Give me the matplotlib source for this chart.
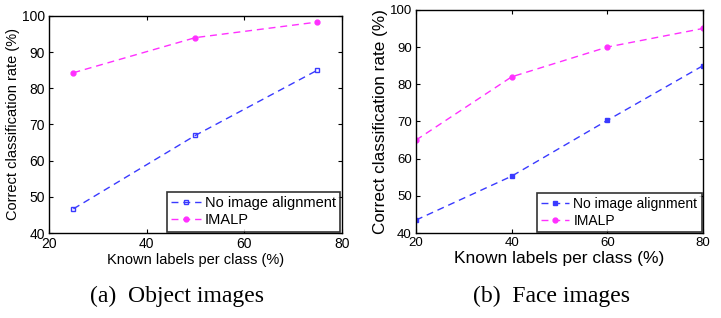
import matplotlib
matplotlib.use("Agg")
import matplotlib.pyplot as plt

# (a) object images
obj_x = [25, 50, 75]
obj_noalign = [46.7, 67.0, 85.0]
obj_imalp = [84.3, 94.0, 98.3]

# (b) face images
face_x = [20, 40, 60, 80]
face_noalign = [43.5, 55.3, 70.3, 85.0]
face_imalp = [65.0, 82.0, 90.0, 95.0]

labels = ["No image alignment", "IMALP"]
xticks = [20, 40, 60, 80]
yticks = [40, 50, 60, 70, 80, 90, 100]

plt.rcParams['font.family'] = ['Liberation Sans', 'DejaVu Sans']

fig = plt.figure(figsize=(7.21, 3.18), dpi=100, facecolor='w')
axL = fig.add_axes([0.068, 0.267, 0.406, 0.683])
axR = fig.add_axes([0.577, 0.267, 0.398, 0.702])

blue = '#3a3aff'
mag = '#ff30ff'
ls = (0, (5, 3.5))


def style(ax, tsize, lsize, ysize, legsize):
    ax.set_xlim(20, 80)
    ax.set_ylim(40, 100)
    ax.set_xticks(xticks)
    ax.set_yticks(yticks)
    ax.tick_params(direction='in', top=True, right=True, length=3,
                   labelsize=tsize, pad=3)
    for s in ax.spines.values():
        s.set_linewidth(1.0)
    ax.set_xlabel("Known labels per class (%)", fontsize=lsize, labelpad=1)
    ax.set_ylabel("Correct classification rate (%)", fontsize=ysize, labelpad=1)
    leg = ax.legend(loc='lower right', fontsize=legsize, frameon=True,
                    fancybox=False, borderaxespad=0.1, handlelength=2.0,
                    handletextpad=0.3, borderpad=0.3, labelspacing=0.2)
    leg.get_frame().set_edgecolor('k')
    leg.get_frame().set_linewidth(1.2)


axL.plot(obj_x, obj_noalign, marker='s', linestyle=ls, color=blue,
         markersize=3.5, markerfacecolor='none', lw=1, label=labels[0])
axL.plot(obj_x, obj_imalp, marker='o', linestyle=ls, color=mag,
         markersize=3.5, lw=1, label=labels[1])
style(axL, 10, 10.5, 10.5, 10.5)

axR.plot(face_x, face_noalign, marker='s', linestyle=ls, color=blue,
         markersize=3.5, lw=1, label=labels[0])
axR.plot(face_x, face_imalp, marker='o', linestyle=ls, color=mag,
         markersize=3.5, lw=1, label=labels[1])
style(axR, 9.5, 12.5, 12.3, 10)

fig.text(0.245, 0.069, "(a)  Object images", ha='center', va='center',
         fontsize=17, family=['Liberation Serif', 'DejaVu Serif'])
fig.text(0.765, 0.069, "(b)  Face images", ha='center', va='center',
         fontsize=17, family=['Liberation Serif', 'DejaVu Serif'])

fig.savefig("out.png", dpi=100)
